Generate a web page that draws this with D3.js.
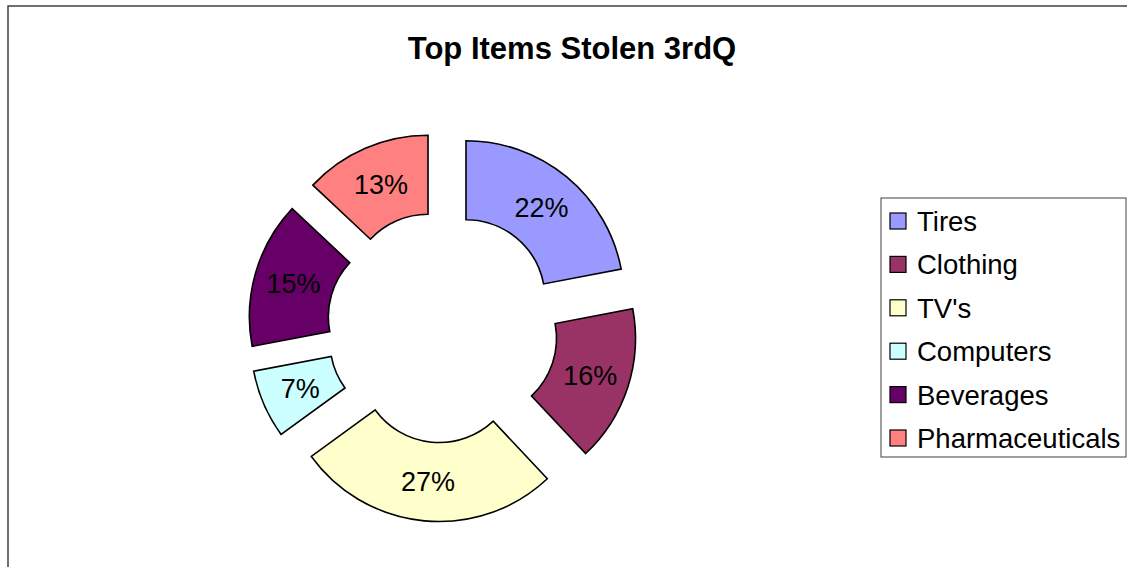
<!DOCTYPE html>
<html>
<head>
<meta charset="utf-8">
<script src="https://cdn.jsdelivr.net/npm/d3@7"></script>
<style>
  html, body { margin: 0; padding: 0; background: #fff; }
  svg { display: block; }
</style>
</head>
<body>
<div id="chart"></div>
<script>
// chart data
const categories = ["Tires", "Clothing", "TV's", "Computers", "Beverages", "Pharmaceuticals"];
const values = [22, 16, 27, 7, 15, 13];
const colors = ["#9999FF", "#993366", "#FFFFCC", "#CCFFFF", "#660066", "#FF8080"];
const title = "Top Items Stolen 3rdQ";

const width = 1127, height = 567;
const font = "Arial, 'Liberation Sans', sans-serif";

const svg = d3.select("#chart").append("svg")
  .attr("width", width)
  .attr("height", height);

// chart area border (runs off the right and bottom)
svg.append("rect")
  .attr("x", 8).attr("y", 6)
  .attr("width", 1130).attr("height", 580)
  .attr("fill", "#fff")
  .attr("stroke", "#404040")
  .attr("stroke-width", 1.5);

svg.append("text")
  .attr("x", 572).attr("y", 59)
  .attr("text-anchor", "middle")
  .attr("font-family", font)
  .attr("font-weight", "bold")
  .attr("font-size", "31px")
  .text(title);

// donut
const cx = 442.6, cy = 327;
const outerR = 158, innerR = 79, explode = 36.7;

const pie = d3.pie().sort(null).value(d => d);
const arcs = pie(values);
const arc = d3.arc().innerRadius(innerR).outerRadius(outerR);

const g = svg.append("g").attr("transform", `translate(${cx},${cy})`);

const slice = g.selectAll("g.slice")
  .data(arcs)
  .enter()
  .append("g")
  .attr("class", "slice")
  .attr("transform", d => {
    const a = (d.startAngle + d.endAngle) / 2;
    return `translate(${explode * Math.sin(a)},${-explode * Math.cos(a)})`;
  });

slice.append("path")
  .attr("d", arc)
  .attr("fill", (d, i) => colors[i])
  .attr("stroke", "#000")
  .attr("stroke-width", 1.6)
  .attr("stroke-linejoin", "miter");

slice.append("text")
  .attr("transform", d => `translate(${arc.centroid(d)})`)
  .attr("dy", "0.36em")
  .attr("text-anchor", "middle")
  .attr("font-family", font)
  .attr("font-size", "27px")
  .attr("fill", "#000")
  .text(d => d3.format(".0%")(d.value / d3.sum(values)));

// legend
const legend = svg.append("g");
legend.append("rect")
  .attr("x", 881).attr("y", 198)
  .attr("width", 245).attr("height", 259)
  .attr("fill", "#fff")
  .attr("stroke", "#404040")
  .attr("stroke-width", 1);

const itemY = d3.scalePoint().domain(categories).range([221, 438]);

const item = legend.selectAll("g.item")
  .data(categories)
  .enter()
  .append("g")
  .attr("class", "item")
  .attr("transform", d => `translate(0,${itemY(d)})`);

item.append("rect")
  .attr("x", 890).attr("y", -8)
  .attr("width", 16).attr("height", 16)
  .attr("fill", (d, i) => colors[i])
  .attr("stroke", "#000")
  .attr("stroke-width", 1.2);

item.append("text")
  .attr("x", 917)
  .attr("dy", "0.36em")
  .attr("font-family", font)
  .attr("font-size", "27.5px")
  .text(d => d);
</script>
</body>
</html>
